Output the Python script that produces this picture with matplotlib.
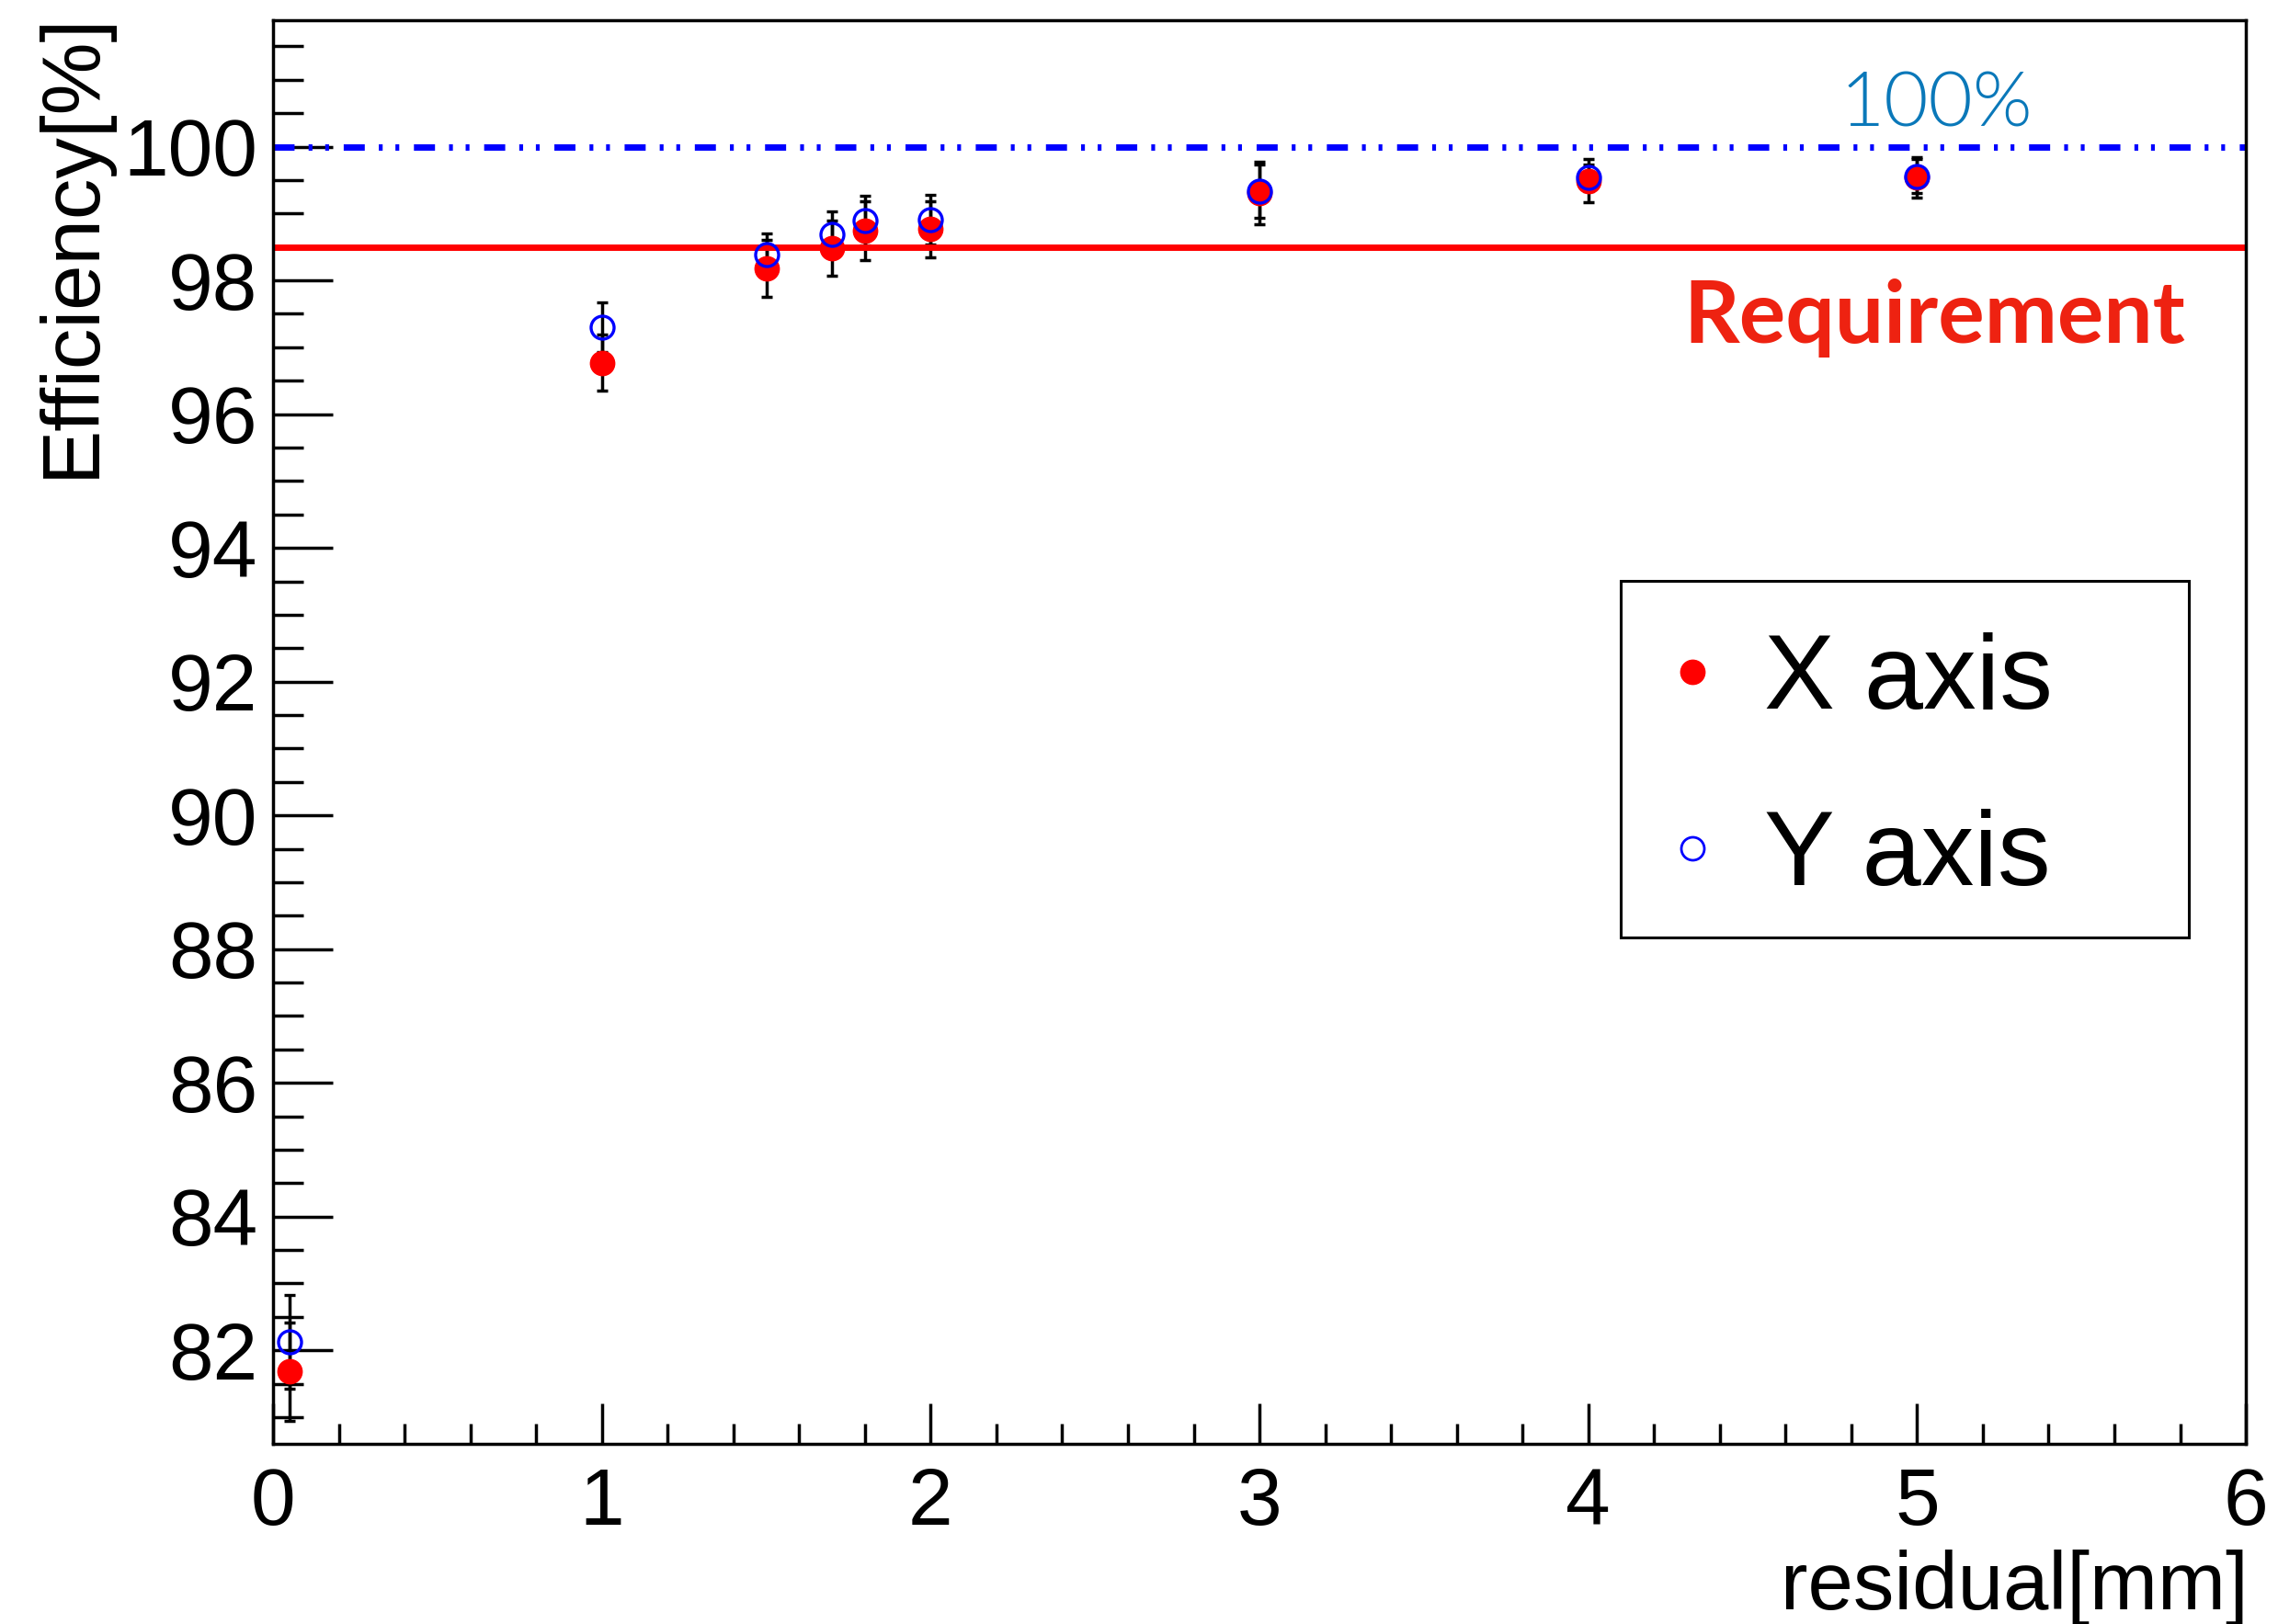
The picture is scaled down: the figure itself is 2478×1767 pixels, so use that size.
import matplotlib
matplotlib.use("Agg")
import matplotlib.pyplot as plt
from matplotlib.lines import Line2D
from matplotlib.patches import Rectangle
from matplotlib.ticker import MultipleLocator

# residual cut [mm]
residual = [0.05, 1.0, 1.5, 1.7, 1.8, 2.0, 3.0, 4.0, 5.0]
# X axis efficiency [%] and errors
eff_x = [81.68, 96.77, 98.18, 98.48, 98.74, 98.77, 99.31, 99.49, 99.54]
err_x = [0.73, 0.42, 0.42, 0.41, 0.44, 0.42, 0.47, 0.32, 0.30]
# Y axis efficiency [%] and errors
eff_y = [82.13, 97.30, 98.39, 98.69, 98.89, 98.91, 99.33, 99.54, 99.56]
err_y = [0.70, 0.37, 0.31, 0.34, 0.37, 0.37, 0.40, 0.20, 0.25]

requirement = 98.5
full_eff = 100.0

plt.rcParams['font.family'] = ['Liberation Sans', 'DejaVu Sans']

fig = plt.figure(figsize=(24.78, 17.67), dpi=100)
ax = fig.add_axes([0.1199, 0.1109, 0.8660, 0.8766])

ax.errorbar(residual, eff_x, yerr=err_x, fmt='o', color='red', ms=19, mec='red',
            ecolor='black', elinewidth=2.5, capsize=4.5, capthick=2.5)
ax.errorbar(residual, eff_y, yerr=err_y, fmt='o', color='blue', ms=18, mfc='none',
            mec='blue', mew=2.4, ecolor='black', elinewidth=2.5, capsize=4.5, capthick=2.5)

ax.axhline(requirement, color='red', lw=5)
ax.axhline(full_eff, color='blue', lw=5, linestyle=(0, (3.3, 2.2, 0.6, 2.0, 0.6, 2.3)))

ax.text(4.765, 100.31, '100%', color='#0a78b9', fontsize=60, fontweight=300,
        family=['Lato', 'DejaVu Sans'])
ax.text(4.29, 97.07, 'Requirement', color='#ee2211', fontsize=68, fontweight='bold',
        family=['Lato', 'DejaVu Sans'])

ax.set_xlim(0, 6)
ax.set_ylim(80.6, 101.89)
ax.xaxis.set_major_locator(MultipleLocator(1))
ax.xaxis.set_minor_locator(MultipleLocator(0.2))
ax.yaxis.set_major_locator(MultipleLocator(2))
ax.yaxis.set_minor_locator(MultipleLocator(0.5))
ax.tick_params(axis='both', which='both', direction='in', top=False, right=False, width=2.5)
ax.tick_params(axis='x', which='major', length=32, pad=18, labelsize=63)
ax.tick_params(axis='x', which='minor', length=16)
ax.tick_params(axis='y', which='major', length=47, pad=12, labelsize=63)
ax.tick_params(axis='y', which='minor', length=24)
for s in ax.spines.values():
    s.set_linewidth(2.5)

xl = ax.set_xlabel('residual[mm]', fontsize=64)
xl.set_ha('right')
xl.set_va('baseline')
ax.xaxis.set_label_coords(1.0014, -0.116)

yl = ax.set_ylabel('Efficiency[%]', fontsize=64)
yl.set_rotation_mode('anchor')
yl.set_ha('right')
yl.set_va('baseline')
ax.yaxis.set_label_coords(-0.0909, 1.006)

# legend box
ax.add_patch(Rectangle((0.683, 0.356), 0.288, 0.25, transform=ax.transAxes,
                       facecolor='white', edgecolor='black', lw=2.2, zorder=4))
handles = [Line2D([], [], ls='none', marker='o', color='red', ms=19),
           Line2D([], [], ls='none', marker='o', mfc='none', mec='blue', mew=2.0, ms=18)]
leg = ax.legend(handles, ['X axis', 'Y axis'], loc='upper left',
                bbox_to_anchor=(0.6993, 0.570), borderaxespad=0, frameon=False,
                fontsize=83, borderpad=0, handlelength=0.754, handletextpad=0.3,
                labelspacing=0.737)
leg.set_zorder(5)

fig.savefig('out.png', dpi=100)
